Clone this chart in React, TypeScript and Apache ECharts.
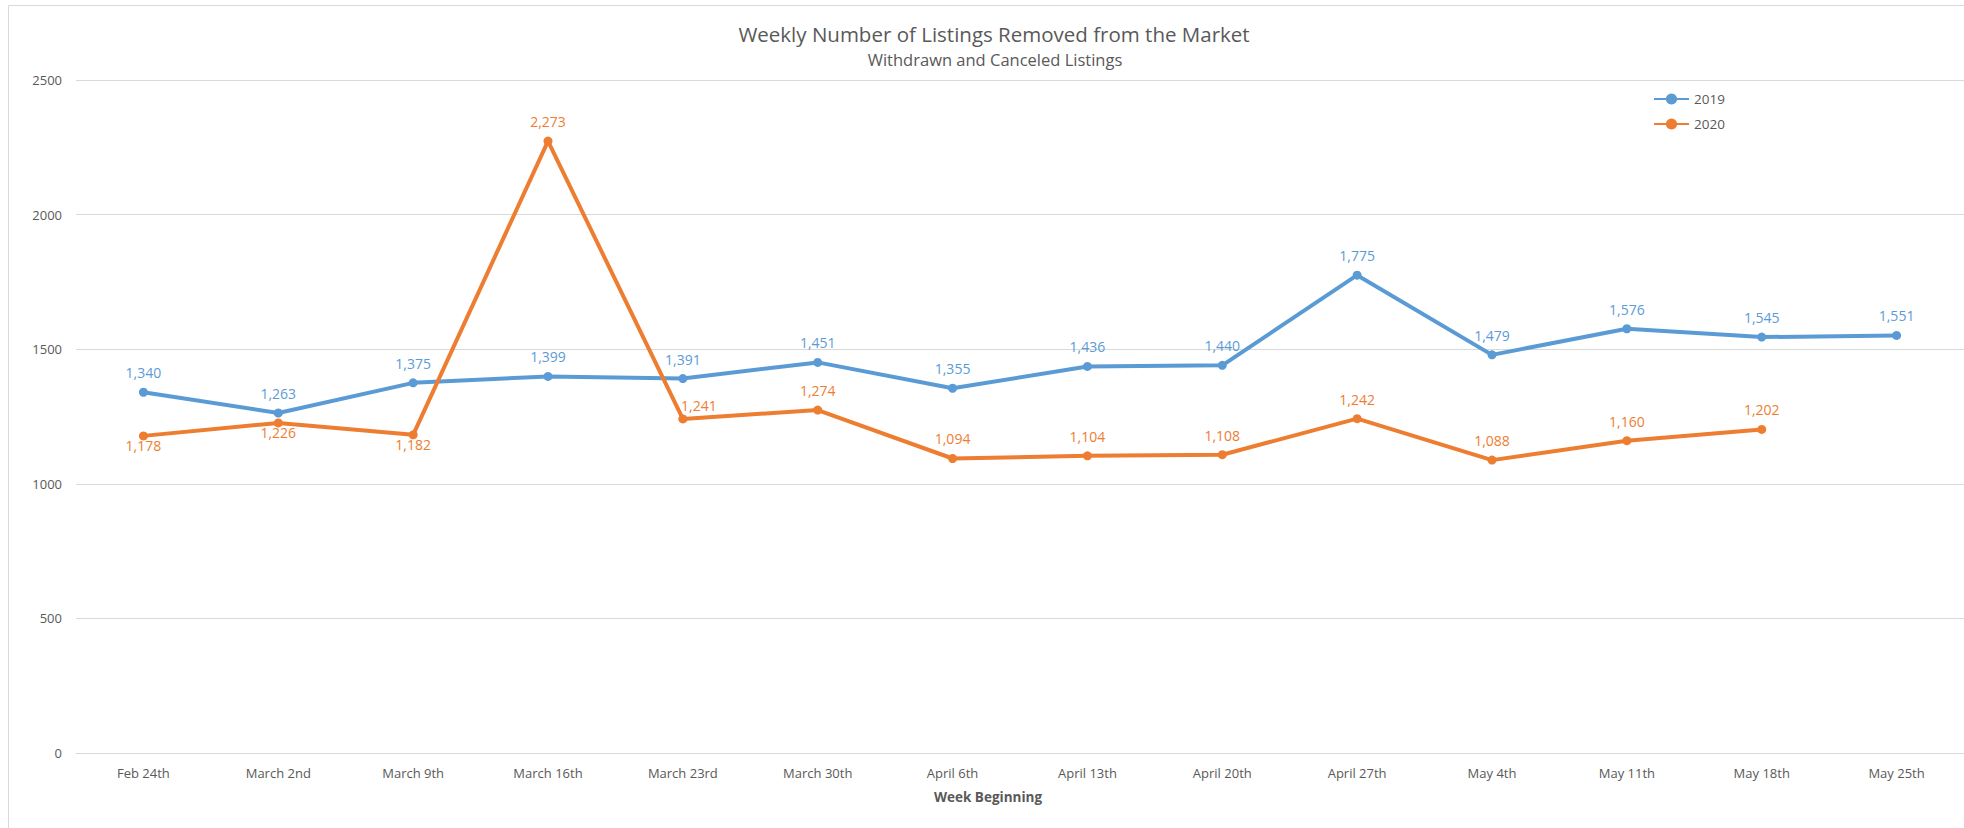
import React, { useEffect, useRef } from "react";
import * as echarts from "echarts";

const weeks = [
  "Feb 24th", "March 2nd", "March 9th", "March 16th", "March 23rd", "March 30th",
  "April 6th", "April 13th", "April 20th", "April 27th", "May 4th", "May 11th",
  "May 18th", "May 25th",
];
const listings2019 = [1340, 1263, 1375, 1399, 1391, 1451, 1355, 1436, 1440, 1775, 1479, 1576, 1545, 1551];
const listings2020: (number | null)[] = [1178, 1226, 1182, 2273, 1241, 1274, 1094, 1104, 1108, 1242, 1088, 1160, 1202, null];
const yTicks = { min: 0, max: 2500, interval: 500 };

const titleText = "Weekly Number of Listings Removed from the Market";
const subtitleText = "Withdrawn and Canceled Listings";
const xAxisTitle = "Week Beginning";

const BLUE = "#5B9BD5";
const ORANGE = "#ED7D31";
const TEXT = "#595959";
const GRID = "#D9D9D9";
const FONT = "'Open Sans', 'Noto Sans', sans-serif";

const fmt = (v: number) => v.toLocaleString("en-US");

export default function App() {
  const ref = useRef<HTMLDivElement>(null);
  useEffect(() => {
    if (!ref.current) return;
    const chart = echarts.init(ref.current, null, { renderer: "svg" });

    const below2020 = [0, 1, 2];
    const rightUp2020 = [4];

    const data2020 = listings2020.map((v, i) => {
      if (below2020.includes(i)) {
        return { value: v, label: { position: "bottom", distance: -2 } };
      }
      if (rightUp2020.includes(i)) {
        return { value: v, label: { position: "top", distance: 2, offset: [16, 0] } };
      }
      return v;
    });

    chart.setOption({
      animation: false,
      textStyle: { fontFamily: FONT },
      grid: { left: 76, right: 0, top: 80, bottom: 75, containLabel: false },
      legend: {
        orient: "vertical",
        left: 1648,
        top: 87,
        itemWidth: 35,
        itemHeight: 14,
        itemGap: 11,
        textStyle: { color: TEXT, fontSize: 13.5, fontFamily: FONT },
        data: ["2019", "2020"],
      },
      xAxis: {
        type: "category",
        data: weeks,
        boundaryGap: true,
        axisLine: { show: true, lineStyle: { color: GRID, width: 1 } },
        axisTick: { show: false },
        axisLabel: { color: TEXT, fontSize: 13, margin: 13, fontFamily: FONT },
        splitLine: { show: false },
      },
      yAxis: {
        type: "value",
        min: yTicks.min,
        max: yTicks.max,
        interval: yTicks.interval,
        axisLine: { show: false },
        axisTick: { show: false },
        axisLabel: {
          color: TEXT,
          fontSize: 13,
          margin: 14,
          fontFamily: FONT,
          formatter: (v: number) => String(v),
        },
        splitLine: { show: true, lineStyle: { color: GRID, width: 1 } },
      },
      graphic: [
        {
          type: "rect",
          shape: { x: 8.5, y: 5.5, width: 3000, height: 3000 },
          style: { fill: "none", stroke: GRID, lineWidth: 1 },
          silent: true,
          z: -1,
        },
        {
          type: "text",
          x: 994,
          y: 34,
          style: {
            text: titleText,
            fill: TEXT,
            font: `20.5px ${FONT}`,
            textAlign: "center",
            textVerticalAlign: "middle",
          },
        },
        {
          type: "text",
          x: 995,
          y: 59,
          style: {
            text: subtitleText,
            fill: TEXT,
            font: `16.5px ${FONT}`,
            textAlign: "center",
            textVerticalAlign: "middle",
          },
        },
        {
          type: "text",
          x: 988,
          y: 797,
          style: {
            text: xAxisTitle,
            fill: TEXT,
            font: `bold 13.5px ${FONT}`,
            textAlign: "center",
            textVerticalAlign: "middle",
          },
        },
      ],
      series: [
        {
          name: "2019",
          type: "line",
          data: listings2019,
          symbol: "circle",
          symbolSize: 9,
          lineStyle: { color: BLUE, width: 4 },
          itemStyle: { color: BLUE },
          label: {
            show: true,
            position: "top",
            distance: 8,
            color: BLUE,
            fontSize: 14,
            fontFamily: FONT,
            formatter: (p: any) => fmt(p.value),
          },
        },
        {
          name: "2020",
          type: "line",
          data: data2020,
          symbol: "circle",
          symbolSize: 9,
          lineStyle: { color: ORANGE, width: 4 },
          itemStyle: { color: ORANGE },
          label: {
            show: true,
            position: "top",
            distance: 8,
            color: ORANGE,
            fontSize: 14,
            fontFamily: FONT,
            formatter: (p: any) => (p.value == null ? "" : fmt(p.value)),
          },
        },
      ],
    });
    return () => chart.dispose();
  }, []);
  return (
    <div
      ref={ref}
      style={{ position: "absolute", left: 0, top: 0, width: 1964, height: 828, background: "#fff" }}
    />
  );
}
